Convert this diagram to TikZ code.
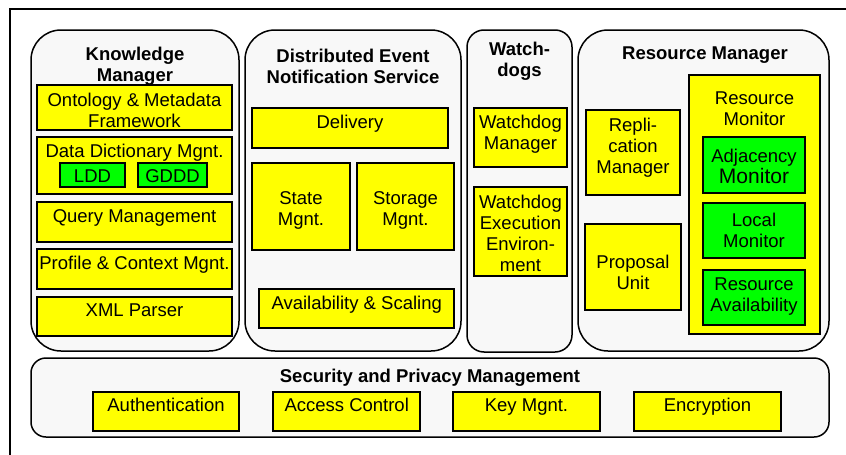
\documentclass[tikz,border=0pt]{standalone}
\usepackage{fontspec}
\setmainfont{Liberation Sans}
\definecolor{contgray}{RGB}{248,248,248}
\definecolor{yel}{RGB}{255,255,0}
\definecolor{grn}{RGB}{0,255,0}
\newcommand\fsn{\fontsize{18.5}{21}\selectfont}
\newcommand\fsbb{\fontsize{18.5}{21}\selectfont\bfseries}
\newcommand\bx[6]{\node[#2, anchor=north west, minimum width={#5-#3}, minimum height={#6-#4}] (#1) at (#3,#4) {};}
\tikzset{
  cont/.style={draw, line width=1.5pt, fill=contgray, rounded corners=30pt, inner sep=0, outer sep=0},
  ybox/.style={draw, line width=1.6pt, fill=yel, inner sep=0, outer sep=0},
  gbox/.style={ybox, fill=grn},
  txt/.style={inner sep=0, align=center, font=\fsn, yshift=-2pt},
  one/.style={inner sep=0, font=\fsn, text height=13.5pt, text depth=4pt, yshift=-2.5pt},
  ttl/.style={inner sep=0, align=center, font=\fsbb, yshift=-2.5pt},
}
\begin{document}
\begin{tikzpicture}[x=1pt,y=-1pt]
\useasboundingbox (0,0) rectangle (846,455);
\draw[line width=2pt] (10,455) -- (10,9) -- (846,9);
% Knowledge Manager
\bx{km}{cont}{31}{30}{239}{351}
\node[ttl] (km-t) at (135,63.5) {Knowledge\\Manager};
\bx{ont}{ybox}{37}{85}{232}{130}
\node[txt] (ont-t) at (134.5,108) {Ontology \& Metadata\\Framework};
\bx{dd}{ybox}{37}{137}{232}{194}
\node[one] (dd-t) at (134.5,150.7) {Data Dictionary Mgnt.};
\bx{ldd}{gbox}{60}{163}{125}{187}
\node[one] (ldd-t) at (92.5,175) {LDD};
\bx{gddd}{gbox}{138}{163}{207}{187}
\node[one] (gddd-t) at (172.5,175) {GDDD};
\bx{qm}{ybox}{37}{202}{232}{242}
\node[one] (qm-t) at (134.5,215) {Query Management};
\bx{pc}{ybox}{37}{249}{232}{289}
\node[one] (pc-t) at (134.5,262) {Profile \& Context Mgnt.};
\bx{xml}{ybox}{37}{297}{232}{336}
\node[one] (xml-t) at (134.5,309) {XML Parser};
% DENS
\bx{dens}{cont}{245}{30}{461}{351}
\node[ttl] (dens-t) at (353,63.5) {Distributed Event\\Notification Service};
\bx{del}{ybox}{252}{108}{448}{148}
\node[one] (del-t) at (350,121) {Delivery};
\bx{st}{ybox}{252}{163}{350}{250}
\node[txt] (st-t) at (301,208.7) {State\\Mgnt.};
\bx{sto}{ybox}{357}{163}{454}{250}
\node[txt] (sto-t) at (405.5,208.7) {Storage\\Mgnt.};
\bx{av}{ybox}{259}{289}{454}{328}
\node[one] (av-t) at (356.7,302) {Availability \& Scaling};
% Watchdogs
\bx{wd}{cont, rounded corners=17pt}{467}{30}{572}{352}
\node[ttl] (wd-t) at (519.5,59) {Watch-\\dogs};
\bx{wdm}{ybox}{474}{108}{567}{167}
\node[txt] (wdm-t) at (520.5,132) {Watchdog\\Manager};
\bx{wde}{ybox}{474}{187}{567}{276}
\node[txt] (wde-t) at (520.5,231.7) {Watchdog\\Execution\\Environ-\\ment};
% Resource Manager
\bx{rm}{cont}{578}{30}{829}{351}
\node[ttl] (rm-t) at (705,53) {Resource Manager};
\bx{rep}{ybox}{586}{110}{680}{195}
\node[txt] (rep-t) at (633,145.8) {Repli-\\cation\\Manager};
\bx{prop}{ybox}{585}{224}{681}{310}
\node[txt] (prop-t) at (633,270.8) {Proposal\\Unit};
\bx{resm}{ybox}{689}{75}{820}{334}
\node[txt] (resm-t) at (754.5,107) {Resource\\Monitor};
\bx{adj}{gbox}{703}{137}{805}{193}
\node[txt] (adj-t) at (754,164) {Adjacency\\{\fontsize{21}{21}\selectfont Monitor}};
\bx{loc}{gbox}{703}{203}{805}{258}
\node[txt] (loc-t) at (754,228.8) {Local\\Monitor};
\bx{rav}{gbox}{703}{270}{805}{325}
\node[txt] (rav-t) at (754,294.5) {Resource\\Availability};
% Security
\bx{sec}{cont, rounded corners=15pt}{31}{358}{829}{437}
\node[ttl] (sec-t) at (430,375) {Security and Privacy Management};
\bx{auth}{ybox}{93}{392}{239}{431}
\node[one] (auth-t) at (166,404) {Authentication};
\bx{acc}{ybox}{273}{392}{420}{431}
\node[one] (acc-t) at (346.7,404) {Access Control};
\bx{key}{ybox}{453}{392}{600}{431}
\node[one] (key-t) at (526.5,404) {Key Mgnt.};
\bx{enc}{ybox}{634}{392}{781}{431}
\node[one] (enc-t) at (707.5,404) {Encryption};
\end{tikzpicture}
\end{document}
